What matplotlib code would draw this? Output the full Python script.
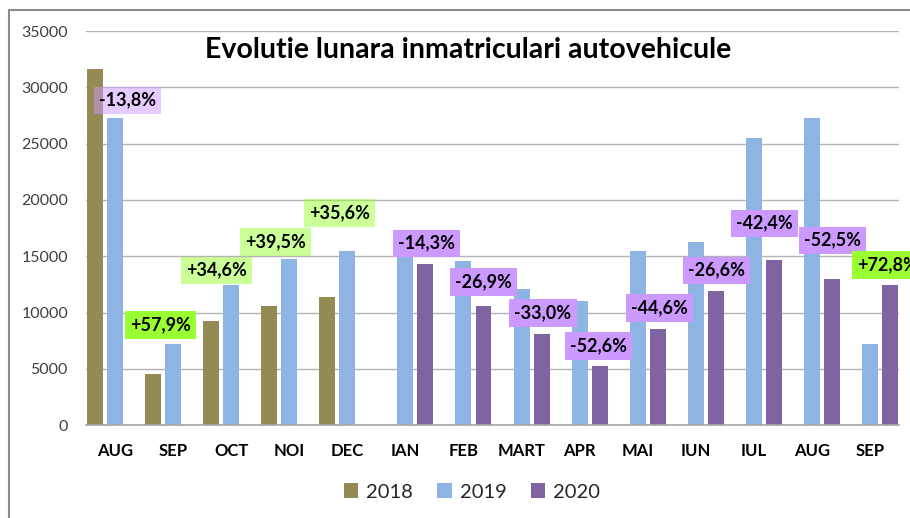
import numpy as np
import matplotlib
matplotlib.use("Agg")
import matplotlib.pyplot as plt
from matplotlib.patches import Rectangle

plt.rcParams['font.family'] = ['Lato', 'DejaVu Sans']

months = ["AUG", "SEP", "OCT", "NOI", "DEC", "IAN", "FEB", "MART",
          "APR", "MAI", "IUN", "IUL", "AUG", "SEP"]
v2018 = [31620, 4570, 9220, 10590, 11390, 0, 0, 0, 0, 0, 0, 0, 0, 0]
v2019 = [27250, 7216, 12410, 14800, 15480, 16670, 14560, 12070,
         11060, 15500, 16240, 25500, 27280, 7216]
v2020 = [0, 0, 0, 0, 0, 14290, 10590, 8100, 5290, 8580, 11950,
         14700, 12960, 12470]

# procent labels: text, x (category units), y (value), faded box or not
pct_text = ["-13,8%", "+57,9%", "+34,6%", "+39,5%", "+35,6%", "-14,3%",
            "-26,9%", "-33,0%", "-52,6%", "-44,6%", "-26,6%", "-42,4%",
            "-52,5%", "+72,8%"]
pct_x = [0.22, 0.79, 1.74, 2.77, 3.87, 5.37, 6.35, 7.37, 8.33, 9.37,
         10.35, 11.19, 12.36, 13.3]
pct_y = [28870, 8900, 13780, 16270, 18840, 16170, 12720, 9970, 7040,
         10410, 13780, 17950, 16440, 14230]
pct_faded = [True, False, True, True, True, False, False, False, False,
             False, False, False, False, False]

c2018 = "#948a54"
c2019 = "#8eb4e3"
c2020 = "#8064a2"
purple_box = "#cc99ff"
green_box = "#99ff33"

fig = plt.figure(figsize=(9.1, 5.18), dpi=100)
ax = fig.add_axes([86 / 910, 92.7 / 518, 813 / 910, 394.3 / 518])

x = np.arange(len(months))
w = 0.275
off = 0.345
ax.bar(x - off, v2018, w, color=c2018, label="2018", zorder=2)
ax.bar(x, v2019, w, color=c2019, label="2019", zorder=2)
ax.bar(x + off, v2020, w, color=c2020, label="2020", zorder=2)

ax.set_xlim(-0.5, len(months) - 0.5)
ax.set_ylim(0, 35000)
ax.set_yticks(np.arange(0, 35001, 5000))
ax.yaxis.grid(True, color="#b3b3b3", linewidth=1.0, zorder=0)
ax.set_axisbelow(True)
for s in ["left", "right", "top"]:
    ax.spines[s].set_visible(False)
ax.spines["bottom"].set_color("#a6a6a6")
ax.spines["bottom"].set_linewidth(1.2)
ax.tick_params(axis="both", length=0)
ax.tick_params(axis="y", labelsize=11.5, labelcolor="#404040", pad=13)
ax.set_xticks(x)
ax.set_xticklabels(months, fontsize=12, fontweight="bold", color="black")
ax.tick_params(axis="x", pad=13)

for t, px, py, faded in zip(pct_text, pct_x, pct_y, pct_faded):
    col = green_box if t.startswith("+") else purple_box
    ax.text(px, py, t, ha="center", va="center", fontsize=13,
            fontweight="bold", color="black", zorder=5, clip_on=False,
            bbox=dict(boxstyle="square,pad=0.28", facecolor=col,
                      edgecolor="none", alpha=0.5 if faded else 1.0))

fig.text(468 / 910, 1 - 50 / 518, "Evolutie lunara inmatriculari autovehicule",
         ha="center", va="center", fontsize=20.5, fontweight="bold")

leg = fig.legend(loc="center", bbox_to_anchor=(472 / 910, 1 - 492 / 518),
                 ncol=3, frameon=False, fontsize=14.5, handlelength=0.7,
                 handleheight=0.7, handletextpad=0.4, columnspacing=1.2)
for txt in leg.get_texts():
    txt.set_color("#262626")

# outer chart frame (cut by image border at right and bottom)
fig.patches.append(Rectangle((9 / 910, -0.1), 1.2, 1 - 10 / 518 + 0.1,
                             transform=fig.transFigure, fill=False,
                             edgecolor="#8c8c8c", linewidth=1.5))

fig.savefig("out.png", dpi=100)
